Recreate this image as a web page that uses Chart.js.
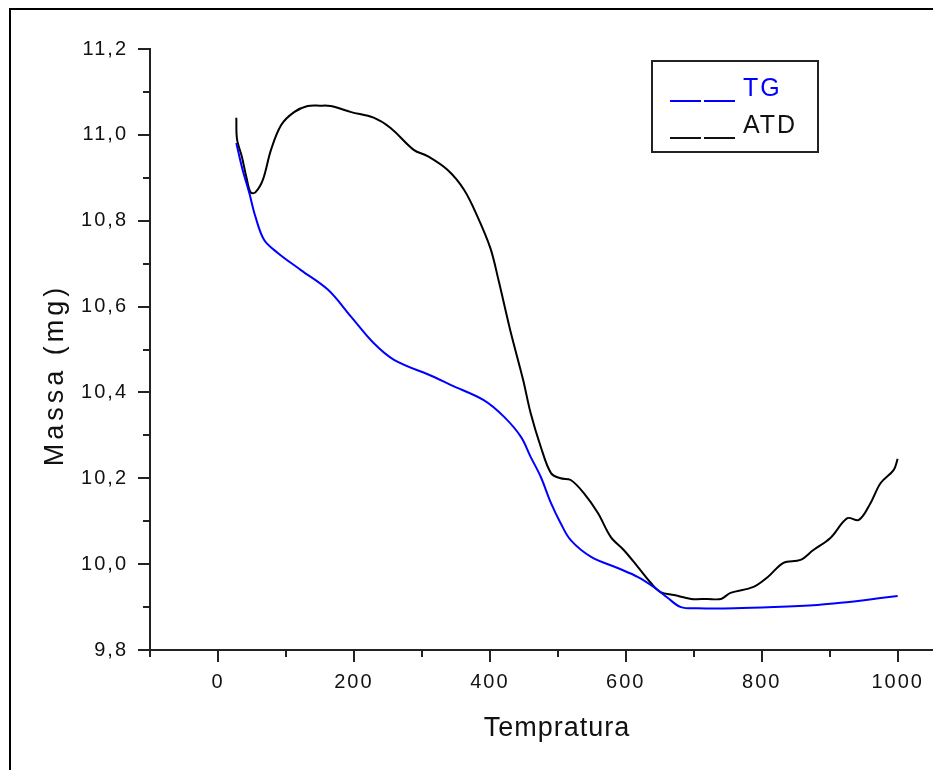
<!DOCTYPE html>
<html>
<head>
<meta charset="utf-8">
<script src="https://cdn.jsdelivr.net/npm/chart.js@4"></script>
<style>
    html, body { margin: 0; padding: 0; background: #fff; overflow: hidden; }
    #wrap { position: relative; width: 933px; height: 770px; }
</style>
</head>
<body>
<div id="wrap"><canvas id="tgChart"></canvas></div>
<script>
// ATD curve (black)
const tempATD = [27, 28, 35, 42, 48, 55, 66, 78, 93, 112, 132, 150, 166, 196, 229, 254, 288, 309, 338, 362, 382, 401, 413, 430, 449, 460, 475, 490, 504, 519, 538, 559, 578, 597, 618, 637, 651, 671, 696, 720, 740, 754, 788, 809, 832, 857, 876, 901, 926, 943, 960, 975, 994, 1000];
const massATD = [11.04, 10.99, 10.95, 10.90, 10.866, 10.866, 10.895, 10.965, 11.023, 11.053, 11.067, 11.068, 11.067, 11.053, 11.04, 11.016, 10.965, 10.95, 10.918, 10.872, 10.809, 10.735, 10.66, 10.545, 10.429, 10.352, 10.273, 10.212, 10.20, 10.196, 10.166, 10.119, 10.063, 10.033, 9.993, 9.956, 9.935, 9.928, 9.919, 9.919, 9.919, 9.933, 9.947, 9.97, 10.003, 10.01, 10.033, 10.061, 10.107, 10.103, 10.142, 10.189, 10.219, 10.245];

// TG curve (blue)
const tempTG = [27, 36, 46, 55, 68, 88, 122, 162, 196, 229, 259, 318, 343, 391, 421, 446, 460, 475, 490, 504, 519, 549, 588, 618, 641, 662, 681, 706, 760, 818, 882, 916, 975, 1000];
const massTG = [10.981, 10.92, 10.865, 10.81, 10.755, 10.725, 10.685, 10.639, 10.576, 10.515, 10.476, 10.436, 10.417, 10.382, 10.343, 10.296, 10.25, 10.203, 10.142, 10.096, 10.056, 10.017, 9.991, 9.97, 9.947, 9.921, 9.90, 9.897, 9.897, 9.90, 9.905, 9.91, 9.921, 9.926];

const xMajor = [0, 200, 400, 600, 800, 1000];
const xMinor = [-100, 100, 300, 500, 700, 900];
const yMajor = [9.8, 10.0, 10.2, 10.4, 10.6, 10.8, 11.0, 11.2];
const yMinor = [9.9, 10.1, 10.3, 10.5, 10.7, 10.9, 11.1];

const xTitle = 'Tempratura';
const yTitle = 'Massa (mg)';
const seriesNames = ['TG', 'ATD'];

const FONT = "'Liberation Sans', Arial, sans-serif";

const toPoints = (xs, ys) => xs.map((x, i) => ({ x, y: ys[i] }));
const commaLabel = (v) => Number(v).toFixed(1).replace('.', ',');

// frame, outward tick marks, axis titles and boxed legend
const decorPlugin = {
    id: 'decor',
    beforeDraw(chart) {
        const ctx = chart.ctx;
        ctx.save();
        ctx.strokeStyle = '#000';
        ctx.lineWidth = 2;
        ctx.beginPath();
        ctx.moveTo(10, 770);
        ctx.lineTo(10, 9);
        ctx.lineTo(933, 9);
        ctx.stroke();
        ctx.restore();
        // old Origin export has widely spaced glyphs
        ctx.letterSpacing = '2px';
    },
    afterDraw(chart) {
        const ctx = chart.ctx;
        const xs = chart.scales.x;
        const ys = chart.scales.y;
        const area = chart.chartArea;
        ctx.save();
        ctx.strokeStyle = '#222';
        ctx.lineWidth = 2;
        ctx.beginPath();
        xMajor.concat(xMinor).forEach((v) => {
            const px = Math.round(xs.getPixelForValue(v));
            const len = xMajor.includes(v) ? 12 : 7;
            ctx.moveTo(px, area.bottom);
            ctx.lineTo(px, area.bottom + len);
        });
        yMajor.concat(yMinor).forEach((v) => {
            const py = Math.round(ys.getPixelForValue(v));
            const len = yMajor.includes(v) ? 12 : 7;
            ctx.moveTo(area.left, py);
            ctx.lineTo(area.left - len, py);
        });
        ctx.stroke();

        // axis titles
        ctx.fillStyle = '#111';
        ctx.textAlign = 'center';
        ctx.textBaseline = 'alphabetic';
        ctx.font = `27px ${FONT}`;
        ctx.letterSpacing = '1px';
        ctx.fillText(xTitle, 557, 736);

        ctx.save();
        ctx.translate(63, 377);
        ctx.rotate(-Math.PI / 2);
        ctx.letterSpacing = '4px';
        ctx.fillText(yTitle, 2, 0);
        ctx.restore();

        // legend box
        ctx.strokeStyle = '#222';
        ctx.lineWidth = 2;
        ctx.strokeRect(652, 61, 166, 91);
        const entries = [
            { label: seriesNames[0], color: '#0000ff', y: 101 },
            { label: seriesNames[1], color: '#111', y: 138 }
        ];
        ctx.textAlign = 'left';
        ctx.letterSpacing = '2px';
        entries.forEach((e) => {
            ctx.strokeStyle = e.color;
            ctx.lineWidth = 2;
            ctx.setLineDash([31, 3]);
            ctx.beginPath();
            ctx.moveTo(670, e.y);
            ctx.lineTo(736, e.y);
            ctx.stroke();
            ctx.setLineDash([]);
            ctx.fillStyle = e.color;
            ctx.font = `25px ${FONT}`;
            ctx.fillText(e.label, 743, e.y - 5);
        });
        ctx.restore();
    }
};

new Chart(document.getElementById('tgChart'), {
    type: 'line',
    data: {
        datasets: [
            {
                label: seriesNames[0],
                data: toPoints(tempTG, massTG),
                borderColor: '#0000ff',
                borderWidth: 2,
                pointRadius: 0,
                tension: 0.35,
                fill: false
            },
            {
                label: seriesNames[1],
                data: toPoints(tempATD, massATD),
                borderColor: '#000',
                borderWidth: 2,
                pointRadius: 0,
                tension: 0.35,
                fill: false
            }
        ]
    },
    options: {
        responsive: true,
        maintainAspectRatio: false,
        animation: false,
        layout: { padding: { top: 49, right: 0, bottom: 0, left: 0 } },
        plugins: {
            legend: { display: false },
            tooltip: { enabled: false }
        },
        scales: {
            x: {
                type: 'linear',
                min: -100,
                max: 1052,
                afterBuildTicks: (scale) => {
                    scale.ticks = xMajor.map((v) => ({ value: v }));
                },
                afterFit: (scale) => { scale.height = 120; },
                grid: { drawOnChartArea: false, drawTicks: true, tickLength: 12, tickColor: 'transparent' },
                border: { color: '#222', width: 2 },
                ticks: {
                    color: '#111',
                    padding: 8,
                    maxRotation: 0,
                    font: { family: FONT, size: 20 },
                    callback: (v) => String(v)
                }
            },
            y: {
                type: 'linear',
                min: 9.8,
                max: 11.2,
                afterBuildTicks: (scale) => {
                    scale.ticks = yMajor.map((v) => ({ value: v }));
                },
                afterFit: (scale) => { scale.width = 150; },
                grid: { drawOnChartArea: false, drawTicks: true, tickLength: 12, tickColor: 'transparent' },
                border: { color: '#222', width: 2 },
                ticks: {
                    color: '#111',
                    padding: 10,
                    font: { family: FONT, size: 20 },
                    callback: (v) => commaLabel(v)
                }
            }
        }
    },
    plugins: [decorPlugin]
});
</script>
</body>
</html>
